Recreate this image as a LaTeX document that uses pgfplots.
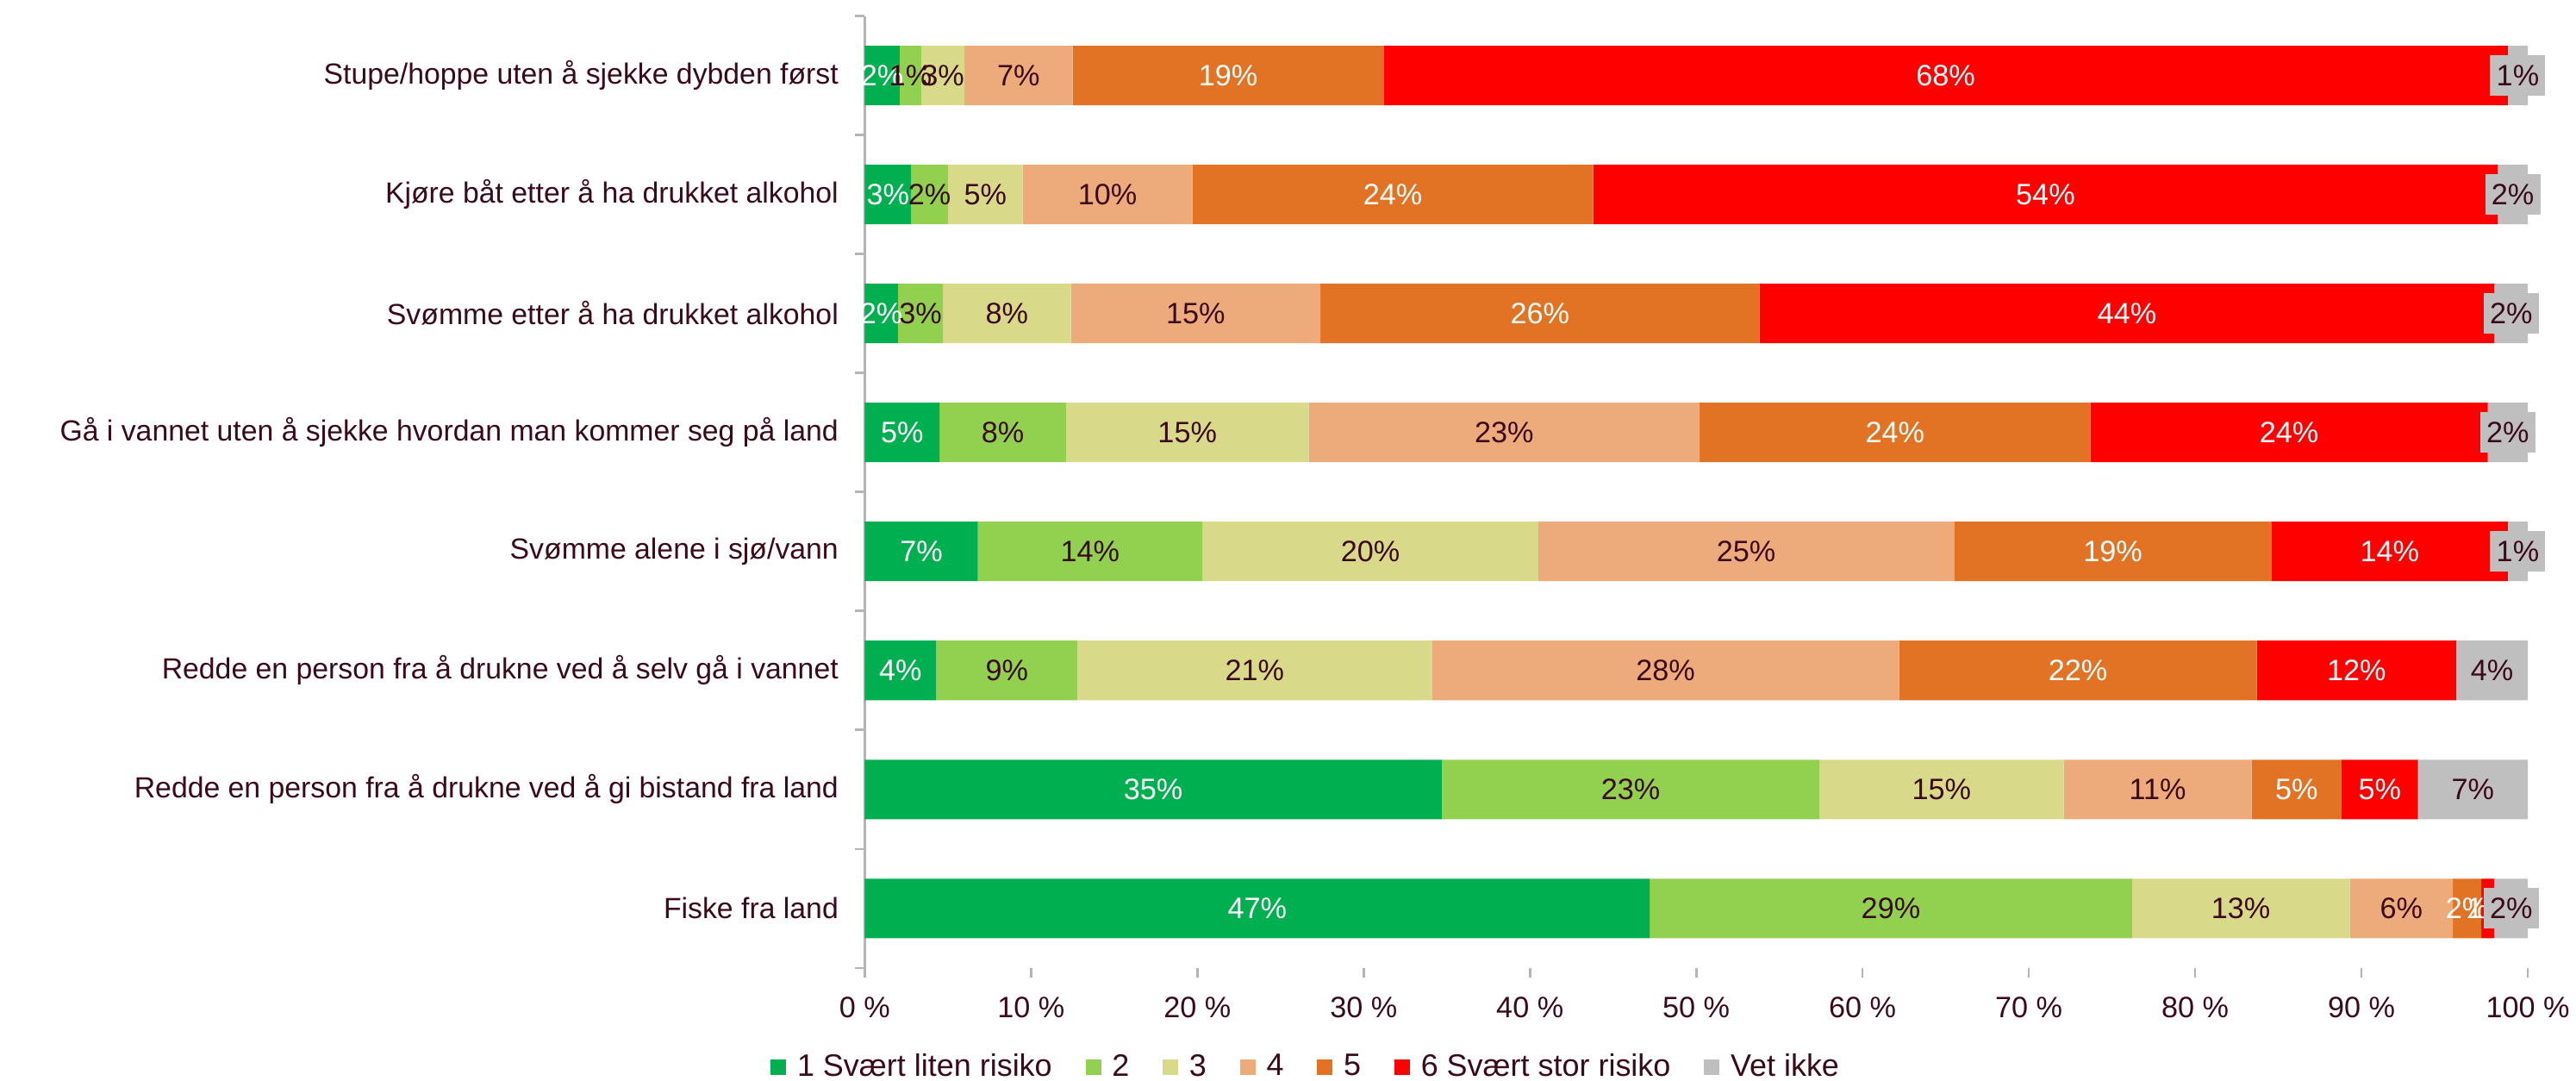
\documentclass[border=0pt]{standalone}
\usepackage{pgfplots}
\pgfplotsset{compat=1.18}
\usepackage{pgfplotstable}
\usepackage{fontspec}
\setmainfont{Liberation Sans}
\definecolor{c1}{HTML}{00B050}
\definecolor{c2}{HTML}{92D050}
\definecolor{c3}{HTML}{D9D98A}
\definecolor{c4}{HTML}{EDAB7B}
\definecolor{c5}{HTML}{E27324}
\definecolor{c6}{HTML}{FF0000}
\definecolor{c7}{HTML}{BFBFBF}
\definecolor{txt}{HTML}{3B0A18}
\definecolor{axgray}{HTML}{B4B4B4}
\newcommand{\lbl}{\fontsize{11.8}{14}\selectfont}
\newcommand{\cat}{\fontsize{11.65}{14}\selectfont}
\newcommand{\leg}{\fontsize{12.4}{14}\selectfont}
\pgfplotsset{sqlegend/.style={legend image code/.code={\fill[##1,draw=none] (0pt,-3.1pt) rectangle (6.2pt,3.1pt);}}}

\pgfplotstableread{
y a b c d e f g la lb lc ld le lf lg
7 2.1 1.3 2.6 6.5 18.7 67.6 1.2 2 1 3 7 19 68 1
6 2.8 2.2 4.5 10.2 24.1 54.4 1.8 3 2 5 10 24 54 2
5 2.0 2.7 7.7 15.0 26.4 44.2 2.0 2 3 8 15 26 44 2
4 4.5 7.6 14.6 23.5 23.5 23.9 2.4 5 8 15 23 24 24 2
3 6.8 13.5 20.2 25.0 19.1 14.2 1.2 7 14 20 25 19 14 1
2 4.3 8.5 21.3 28.1 21.5 12.0 4.3 4 9 21 28 22 12 4
1 34.7 22.7 14.7 11.3 5.4 4.6 6.6 35 23 15 11 5 5 7
0 47.2 29.0 13.1 6.2 1.7 0.8 2.0 47 29 13 6 2 1 2
}\data

\begin{document}
\begin{tikzpicture}
\useasboundingbox (-346.0pt,-45.2pt) rectangle (684.7pt,387.2pt);
\pgfplotsset{common/.style={
  at={(0pt,0pt)}, anchor=south west, scale only axis,
  width=665.4pt, height=380.8pt,
  xmin=0, xmax=100, ymin=-0.5, ymax=7.5,
}}
\begin{axis}[common,
  xbar stacked, bar width=0.5,
  axis lines*=left,
  x axis line style={draw=none},
  y axis line style={draw=axgray, line width=0.9pt},
  xtick={0,10,...,100},
  xticklabels={0 \%,10 \%,20 \%,30 \%,40 \%,50 \%,60 \%,70 \%,80 \%,90 \%,100 \%},
  tick align=outside,
  major tick length=4pt,
  minor tick length=4pt,
  every major x tick/.style={draw=axgray, line width=0.9pt},
  every major y tick/.style={draw=none},
  every minor y tick/.style={draw=axgray, line width=0.9pt},
  ytick={0,...,7},
  minor ytick={-0.5,0.5,...,7.5},
  yticklabels={Fiske fra land,
    Redde en person fra å drukne ved å gi bistand fra land,
    Redde en person fra å drukne ved å selv gå i vannet,
    Svømme alene i sjø/vann,
    Gå i vannet uten å sjekke hvordan man kommer seg på land,
    Svømme etter å ha drukket alkohol\ ,
    Kjøre båt etter å ha drukket alkohol,
    Stupe/hoppe uten å sjekke dybden først},
  yticklabel style={font=\cat, text=txt, xshift=-3pt},
  xticklabel style={font=\lbl, text=txt, yshift=-4pt},
  legend style={at={(0.268,-0.104)}, anchor=center, draw=none, fill=none,
    legend columns=-1, font=\leg, text=txt, nodes={inner xsep=4.4pt},
    /tikz/every even column/.append style={column sep=9pt}},
]
\addplot[fill=c1, draw=none, sqlegend] table[x=a, y=y]{\data};
\addlegendentry{1 Svært liten risiko}
\addplot[fill=c2, draw=none, sqlegend] table[x=b, y=y]{\data};
\addlegendentry{2}
\addplot[fill=c3, draw=none, sqlegend] table[x=c, y=y]{\data};
\addlegendentry{3}
\addplot[fill=c4, draw=none, sqlegend] table[x=d, y=y]{\data};
\addlegendentry{4}
\addplot[fill=c5, draw=none, sqlegend] table[x=e, y=y]{\data};
\addlegendentry{5}
\addplot[fill=c6, draw=none, sqlegend] table[x=f, y=y]{\data};
\addlegendentry{6 Svært stor risiko}
\addplot[fill=c7, draw=none, sqlegend] table[x=g, y=y]{\data};
\addlegendentry{Vet ikke}
\end{axis}

\begin{axis}[common, hide axis, clip=false]
\addplot[draw=none, point meta=explicit symbolic, nodes near coords={\pgfplotspointmeta\%},
  every node near coord/.append style={anchor=center, font=\lbl, text=white}]
  table[x expr={0.5*\thisrow{a}}, y=y, meta=la]{\data};
\addplot[draw=none, point meta=explicit symbolic, nodes near coords={\pgfplotspointmeta\%},
  every node near coord/.append style={anchor=center, font=\lbl, text=txt}]
  table[x expr={\thisrow{a}+0.5*\thisrow{b}}, y=y, meta=lb]{\data};
\addplot[draw=none, point meta=explicit symbolic, nodes near coords={\pgfplotspointmeta\%},
  every node near coord/.append style={anchor=center, font=\lbl, text=txt}]
  table[x expr={\thisrow{a}+\thisrow{b}+0.5*\thisrow{c}}, y=y, meta=lc]{\data};
\addplot[draw=none, point meta=explicit symbolic, nodes near coords={\pgfplotspointmeta\%},
  every node near coord/.append style={anchor=center, font=\lbl, text=txt}]
  table[x expr={\thisrow{a}+\thisrow{b}+\thisrow{c}+0.5*\thisrow{d}}, y=y, meta=ld]{\data};
\addplot[draw=none, point meta=explicit symbolic, nodes near coords={\pgfplotspointmeta\%},
  every node near coord/.append style={anchor=center, font=\lbl, text=white}]
  table[x expr={\thisrow{a}+\thisrow{b}+\thisrow{c}+\thisrow{d}+0.5*\thisrow{e}}, y=y, meta=le]{\data};
\addplot[draw=none, point meta=explicit symbolic, nodes near coords={\pgfplotspointmeta\%},
  every node near coord/.append style={anchor=center, font=\lbl, text=white}]
  table[x expr={\thisrow{a}+\thisrow{b}+\thisrow{c}+\thisrow{d}+\thisrow{e}+0.5*\thisrow{f}}, y=y, meta=lf]{\data};
\addplot[draw=none, point meta=explicit symbolic, nodes near coords={\pgfplotspointmeta\%},
  every node near coord/.append style={anchor=center, font=\lbl, text=txt, fill=c7, inner xsep=2.5pt, inner ysep=4pt}]
  table[x expr={\thisrow{a}+\thisrow{b}+\thisrow{c}+\thisrow{d}+\thisrow{e}+\thisrow{f}+0.5*\thisrow{g}}, y=y, meta=lg]{\data};
\end{axis}
\end{tikzpicture}
\end{document}
